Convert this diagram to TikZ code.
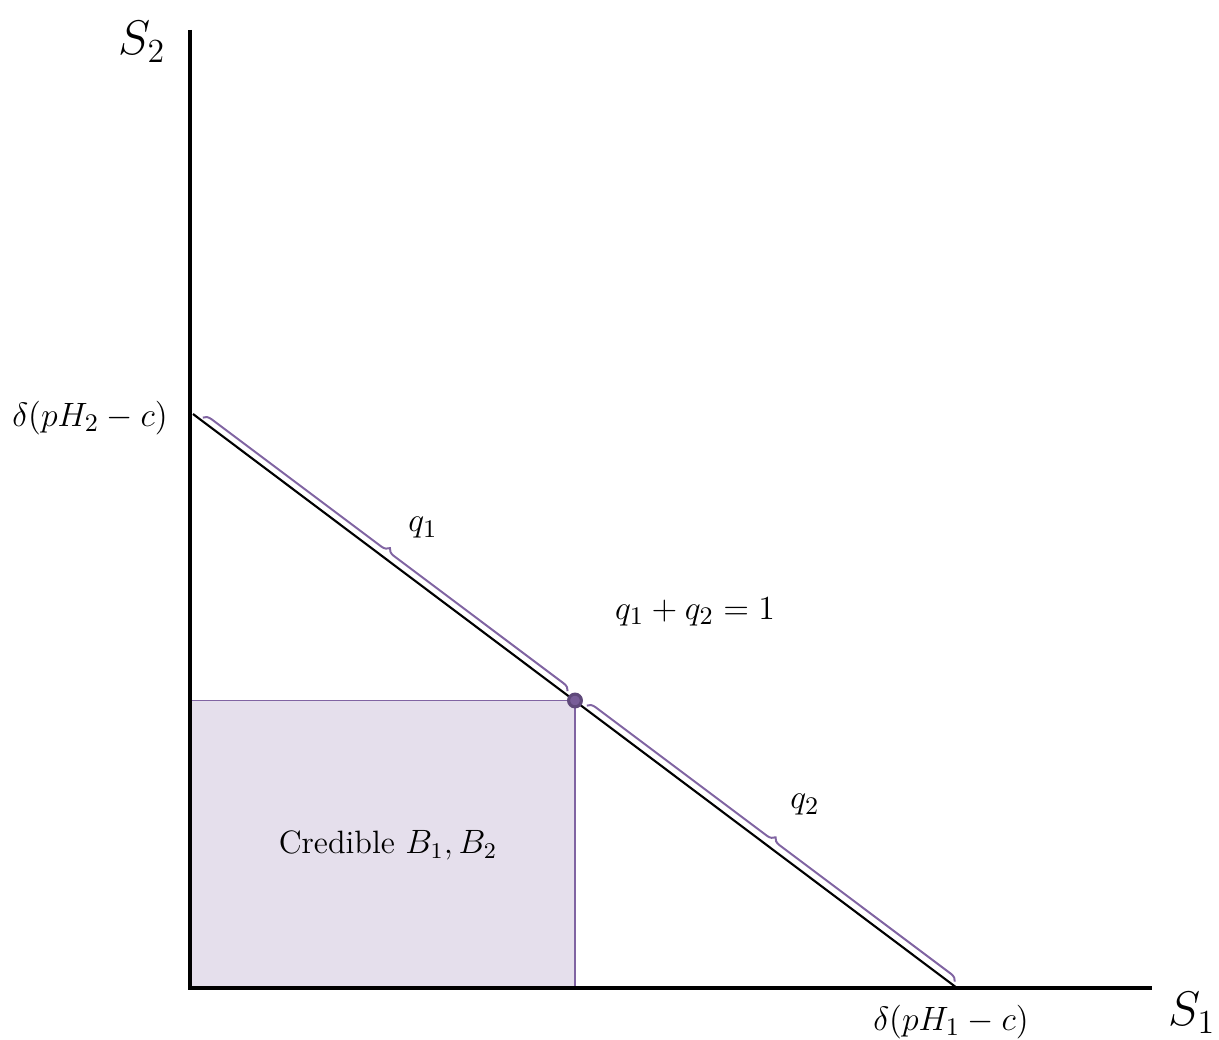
\documentclass[tikz,border=0pt]{standalone}
\usepackage{xcolor}
\usetikzlibrary{decorations.pathreplacing}
\definecolor{Plum}{HTML}{8064A2}
\definecolor{DeepPlum}{HTML}{5F497A}
\definecolor{SoftPlum}{HTML}{E5DFEC}

\begin{document}
\begin{tikzpicture}[
        x=0.0125cm,
        y=-0.0125cm,
        axis/.style={line width=1.45pt, draw=black},
        budget/.style={line width=0.75pt, draw=black},
        share/.style={draw=Plum, line width=0.7pt, decorate, decoration={brace, amplitude=2.8pt}},
        lbl/.style={font=\fontsize{12.5}{14}\selectfont, inner sep=0pt},
        axlbl/.style={font=\fontsize{17}{20}\selectfont, inner sep=0pt}
      ]
        \useasboundingbox (0,0) rectangle (1219,1040);

        \coordinate (origin) at (190,988);
        \coordinate (ytop) at (190,30);
        \coordinate (xend) at (1152,988);
        \coordinate (top) at (193,414);
        \coordinate (bot) at (957,988);
        \coordinate (eq) at (575,700.5);

        % credible region
        \fill[SoftPlum] (origin) rectangle (eq);
        \draw[Plum, line width=0.7pt] (origin |- eq) -- (eq) -- (eq |- origin);

        % frontier and shares
        \draw[budget] (top) -- (bot);
        \coordinate (b1s) at (202.8,417.6);
        \coordinate (b1e) at (567.6,691.2);
        \coordinate (b2s) at (586.8,705.6);
        \coordinate (b2e) at (954.8,981.6);
        \draw[share] (b1s) -- (b1e);
        \draw[share] (b2s) -- (b2e);

        \node[circle, fill=Plum!75!DeepPlum, draw=DeepPlum, line width=1.1pt, minimum size=0.16cm, inner sep=0pt] (eqdot) at (eq) {};

        \draw[axis] (ytop) -- (origin) -- (xend);

        \node[axlbl] (s2) at (142,42) {$S_2$};
        \node[axlbl] (s1) at (1192,1013) {$S_1$};
        \node[lbl] (ymax) at (90,418) {$\delta(pH_2-c)$};
        \node[lbl] (xmax) at (951,1022) {$\delta(pH_1-c)$};
        \node[lbl] (q1) at (423,528) {$q_1$};
        \node[lbl] (q2) at (805,805) {$q_2$};
        \node[lbl] (sum) at (695,612) {$q_1+q_2=1$};
        \node[lbl, font=\fontsize{11.5}{13}\selectfont] (cred) at (388,845) {Credible $B_1,B_2$};
      \end{tikzpicture}
\end{document}
